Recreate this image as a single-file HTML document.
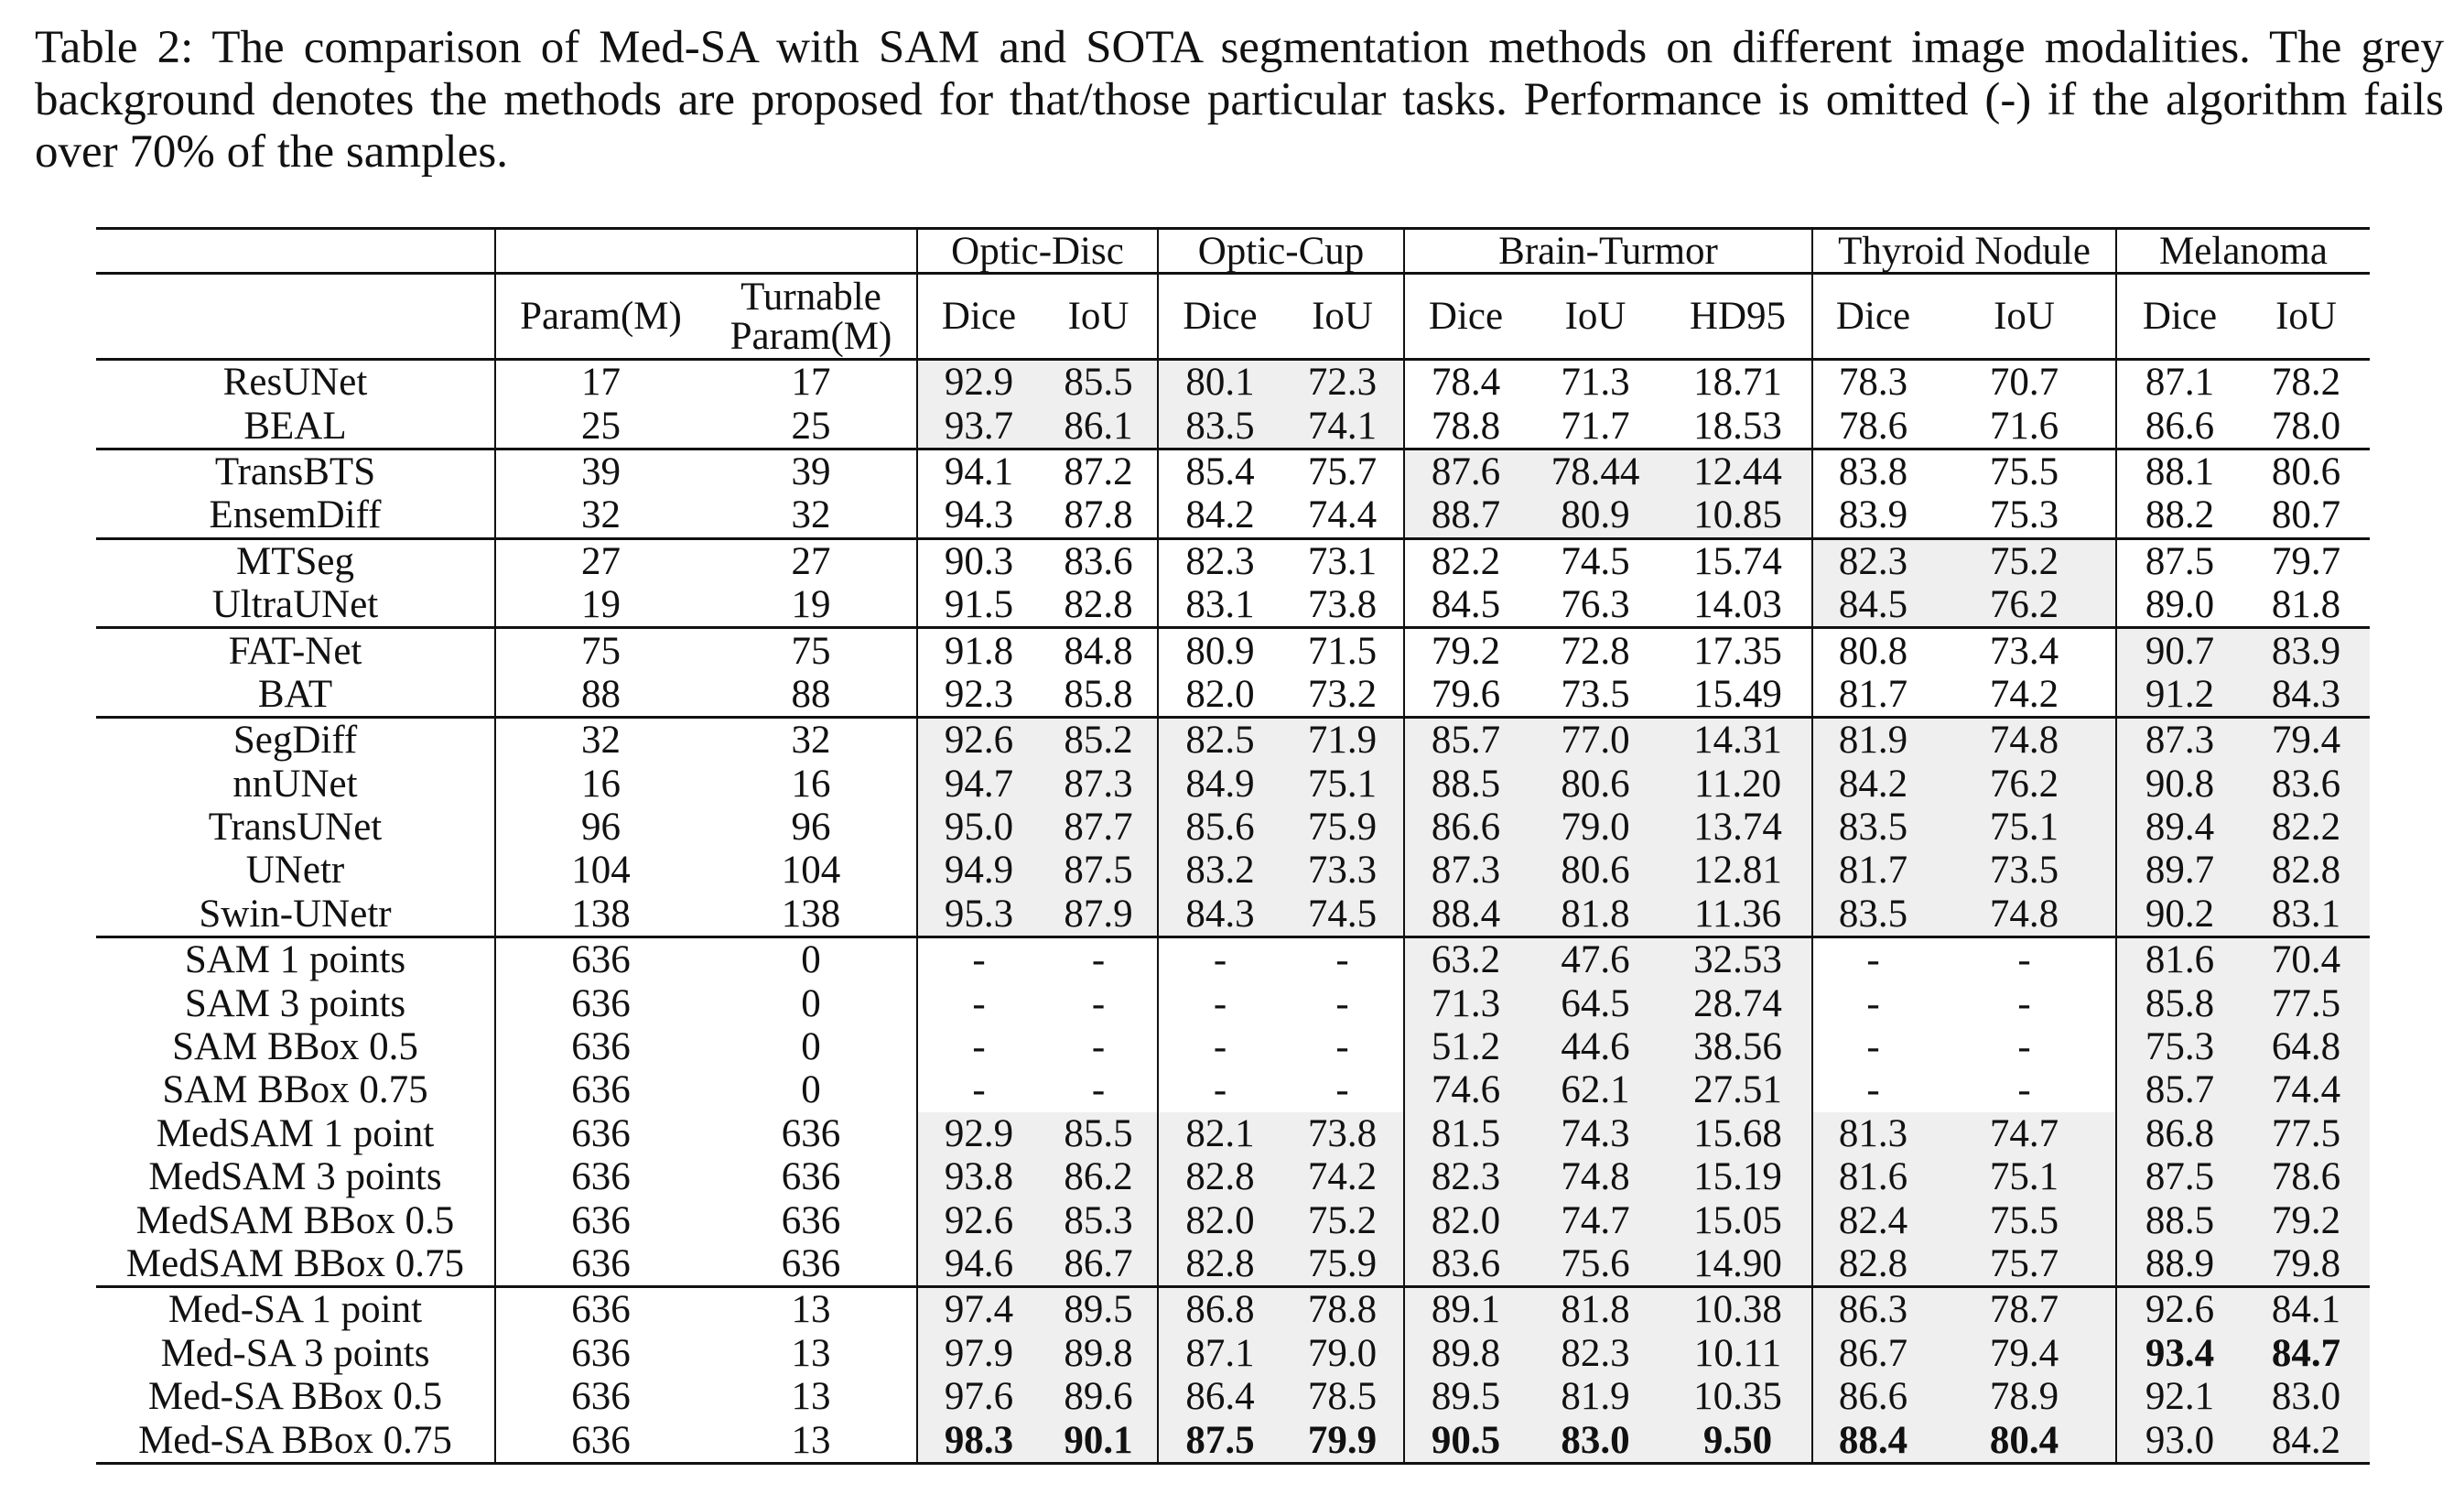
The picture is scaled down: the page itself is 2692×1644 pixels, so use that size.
<!DOCTYPE html>
<html><head><meta charset="utf-8">
<style>
html,body{margin:0;padding:0;background:#fff;}
body{width:2692px;height:1644px;position:relative;overflow:hidden;font-family:"Liberation Serif",serif;color:#111;}
.cap{position:absolute;left:38px;width:2632px;font-size:51px;line-height:57px;white-space:nowrap;}
.j{text-align:justify;text-align-last:justify;}
table{position:absolute;left:105px;top:248px;border-collapse:collapse;table-layout:fixed;font-size:43px;}
td{padding:0;text-align:center;vertical-align:middle;white-space:nowrap;line-height:1;}
tr.d td{height:47.4px;}
tr.h1 td{height:46px;border-top:3px solid #111;border-bottom:3px solid #111;}
tr.h2 td{height:91px;border-bottom:3px solid #111;}
tr.t td{border-top:3px solid #111;}
tr.last td{border-bottom:3px solid #111;}
.v{border-left:2px solid #111;}
.b{font-weight:bold;}
tr.a td:nth-child(n+4):nth-child(-n+7){background:#efefef;}
tr.bb td:nth-child(n+8):nth-child(-n+10){background:#efefef;}
tr.c td:nth-child(n+11):nth-child(-n+12){background:#efefef;}
tr.dd td:nth-child(n+13):nth-child(-n+14){background:#efefef;}
tr.e td:nth-child(n+4){background:#efefef;}
tr.f td:nth-child(n+8):nth-child(-n+10),tr.f td:nth-child(n+13){background:#efefef;}
tr.d td:nth-child(4),tr.d td:nth-child(6),tr.d td:nth-child(8),tr.d td:nth-child(11),tr.d td:nth-child(13){border-left:2px solid #111;}
tr.h2 td.v{border-left:2px solid #111;}
</style></head><body>
<div class="cap j" style="top:24px">Table 2: The comparison of Med-SA with SAM and SOTA segmentation methods on different image modalities. The grey</div>
<div class="cap j" style="top:81px">background denotes the methods are proposed for that/those particular tasks. Performance is omitted (-) if the algorithm fails</div>
<div class="cap" style="top:138px">over 70% of the samples.</div>
<table>
<colgroup>
<col style="width:436px"><col style="width:230px"><col style="width:231px">
<col style="width:134px"><col style="width:129px">
<col style="width:135px"><col style="width:134px">
<col style="width:134px"><col style="width:150px"><col style="width:162px">
<col style="width:132px"><col style="width:200px">
<col style="width:138px"><col style="width:139px">
</colgroup>
<tr class="h1"><td></td><td class="v" colspan="2"></td><td class="v" colspan="2">Optic-Disc</td><td class="v" colspan="2">Optic-Cup</td><td class="v" colspan="3">Brain-Turmor</td><td class="v" colspan="2">Thyroid Nodule</td><td class="v" colspan="2">Melanoma</td></tr>
<tr class="h2"><td></td><td class="v">Param(M)</td><td>Turnable<br>Param(M)</td><td class="v">Dice</td><td>IoU</td><td class="v">Dice</td><td>IoU</td><td class="v">Dice</td><td>IoU</td><td>HD95</td><td class="v">Dice</td><td>IoU</td><td class="v">Dice</td><td>IoU</td></tr>
<tr class="d a"><td>ResUNet</td><td class="v">17</td><td>17</td><td>92.9</td><td>85.5</td><td>80.1</td><td>72.3</td><td>78.4</td><td>71.3</td><td>18.71</td><td>78.3</td><td>70.7</td><td>87.1</td><td>78.2</td></tr>
<tr class="d a"><td>BEAL</td><td class="v">25</td><td>25</td><td>93.7</td><td>86.1</td><td>83.5</td><td>74.1</td><td>78.8</td><td>71.7</td><td>18.53</td><td>78.6</td><td>71.6</td><td>86.6</td><td>78.0</td></tr>
<tr class="d bb t"><td>TransBTS</td><td class="v">39</td><td>39</td><td>94.1</td><td>87.2</td><td>85.4</td><td>75.7</td><td>87.6</td><td>78.44</td><td>12.44</td><td>83.8</td><td>75.5</td><td>88.1</td><td>80.6</td></tr>
<tr class="d bb"><td>EnsemDiff</td><td class="v">32</td><td>32</td><td>94.3</td><td>87.8</td><td>84.2</td><td>74.4</td><td>88.7</td><td>80.9</td><td>10.85</td><td>83.9</td><td>75.3</td><td>88.2</td><td>80.7</td></tr>
<tr class="d c t"><td>MTSeg</td><td class="v">27</td><td>27</td><td>90.3</td><td>83.6</td><td>82.3</td><td>73.1</td><td>82.2</td><td>74.5</td><td>15.74</td><td>82.3</td><td>75.2</td><td>87.5</td><td>79.7</td></tr>
<tr class="d c"><td>UltraUNet</td><td class="v">19</td><td>19</td><td>91.5</td><td>82.8</td><td>83.1</td><td>73.8</td><td>84.5</td><td>76.3</td><td>14.03</td><td>84.5</td><td>76.2</td><td>89.0</td><td>81.8</td></tr>
<tr class="d dd t"><td>FAT-Net</td><td class="v">75</td><td>75</td><td>91.8</td><td>84.8</td><td>80.9</td><td>71.5</td><td>79.2</td><td>72.8</td><td>17.35</td><td>80.8</td><td>73.4</td><td>90.7</td><td>83.9</td></tr>
<tr class="d dd"><td>BAT</td><td class="v">88</td><td>88</td><td>92.3</td><td>85.8</td><td>82.0</td><td>73.2</td><td>79.6</td><td>73.5</td><td>15.49</td><td>81.7</td><td>74.2</td><td>91.2</td><td>84.3</td></tr>
<tr class="d e t"><td>SegDiff</td><td class="v">32</td><td>32</td><td>92.6</td><td>85.2</td><td>82.5</td><td>71.9</td><td>85.7</td><td>77.0</td><td>14.31</td><td>81.9</td><td>74.8</td><td>87.3</td><td>79.4</td></tr>
<tr class="d e"><td>nnUNet</td><td class="v">16</td><td>16</td><td>94.7</td><td>87.3</td><td>84.9</td><td>75.1</td><td>88.5</td><td>80.6</td><td>11.20</td><td>84.2</td><td>76.2</td><td>90.8</td><td>83.6</td></tr>
<tr class="d e"><td>TransUNet</td><td class="v">96</td><td>96</td><td>95.0</td><td>87.7</td><td>85.6</td><td>75.9</td><td>86.6</td><td>79.0</td><td>13.74</td><td>83.5</td><td>75.1</td><td>89.4</td><td>82.2</td></tr>
<tr class="d e"><td>UNetr</td><td class="v">104</td><td>104</td><td>94.9</td><td>87.5</td><td>83.2</td><td>73.3</td><td>87.3</td><td>80.6</td><td>12.81</td><td>81.7</td><td>73.5</td><td>89.7</td><td>82.8</td></tr>
<tr class="d e"><td>Swin-UNetr</td><td class="v">138</td><td>138</td><td>95.3</td><td>87.9</td><td>84.3</td><td>74.5</td><td>88.4</td><td>81.8</td><td>11.36</td><td>83.5</td><td>74.8</td><td>90.2</td><td>83.1</td></tr>
<tr class="d f t"><td>SAM 1 points</td><td class="v">636</td><td>0</td><td>-</td><td>-</td><td>-</td><td>-</td><td>63.2</td><td>47.6</td><td>32.53</td><td>-</td><td>-</td><td>81.6</td><td>70.4</td></tr>
<tr class="d f"><td>SAM 3 points</td><td class="v">636</td><td>0</td><td>-</td><td>-</td><td>-</td><td>-</td><td>71.3</td><td>64.5</td><td>28.74</td><td>-</td><td>-</td><td>85.8</td><td>77.5</td></tr>
<tr class="d f"><td>SAM BBox 0.5</td><td class="v">636</td><td>0</td><td>-</td><td>-</td><td>-</td><td>-</td><td>51.2</td><td>44.6</td><td>38.56</td><td>-</td><td>-</td><td>75.3</td><td>64.8</td></tr>
<tr class="d f"><td>SAM BBox 0.75</td><td class="v">636</td><td>0</td><td>-</td><td>-</td><td>-</td><td>-</td><td>74.6</td><td>62.1</td><td>27.51</td><td>-</td><td>-</td><td>85.7</td><td>74.4</td></tr>
<tr class="d e"><td>MedSAM 1 point</td><td class="v">636</td><td>636</td><td>92.9</td><td>85.5</td><td>82.1</td><td>73.8</td><td>81.5</td><td>74.3</td><td>15.68</td><td>81.3</td><td>74.7</td><td>86.8</td><td>77.5</td></tr>
<tr class="d e"><td>MedSAM 3 points</td><td class="v">636</td><td>636</td><td>93.8</td><td>86.2</td><td>82.8</td><td>74.2</td><td>82.3</td><td>74.8</td><td>15.19</td><td>81.6</td><td>75.1</td><td>87.5</td><td>78.6</td></tr>
<tr class="d e"><td>MedSAM BBox 0.5</td><td class="v">636</td><td>636</td><td>92.6</td><td>85.3</td><td>82.0</td><td>75.2</td><td>82.0</td><td>74.7</td><td>15.05</td><td>82.4</td><td>75.5</td><td>88.5</td><td>79.2</td></tr>
<tr class="d e"><td>MedSAM BBox 0.75</td><td class="v">636</td><td>636</td><td>94.6</td><td>86.7</td><td>82.8</td><td>75.9</td><td>83.6</td><td>75.6</td><td>14.90</td><td>82.8</td><td>75.7</td><td>88.9</td><td>79.8</td></tr>
<tr class="d e t"><td>Med-SA 1 point</td><td class="v">636</td><td>13</td><td>97.4</td><td>89.5</td><td>86.8</td><td>78.8</td><td>89.1</td><td>81.8</td><td>10.38</td><td>86.3</td><td>78.7</td><td>92.6</td><td>84.1</td></tr>
<tr class="d e"><td>Med-SA 3 points</td><td class="v">636</td><td>13</td><td>97.9</td><td>89.8</td><td>87.1</td><td>79.0</td><td>89.8</td><td>82.3</td><td>10.11</td><td>86.7</td><td>79.4</td><td class="b">93.4</td><td class="b">84.7</td></tr>
<tr class="d e"><td>Med-SA BBox 0.5</td><td class="v">636</td><td>13</td><td>97.6</td><td>89.6</td><td>86.4</td><td>78.5</td><td>89.5</td><td>81.9</td><td>10.35</td><td>86.6</td><td>78.9</td><td>92.1</td><td>83.0</td></tr>
<tr class="d e last"><td>Med-SA BBox 0.75</td><td class="v">636</td><td>13</td><td class="b">98.3</td><td class="b">90.1</td><td class="b">87.5</td><td class="b">79.9</td><td class="b">90.5</td><td class="b">83.0</td><td class="b">9.50</td><td class="b">88.4</td><td class="b">80.4</td><td>93.0</td><td>84.2</td></tr>
</table>
</body></html>
